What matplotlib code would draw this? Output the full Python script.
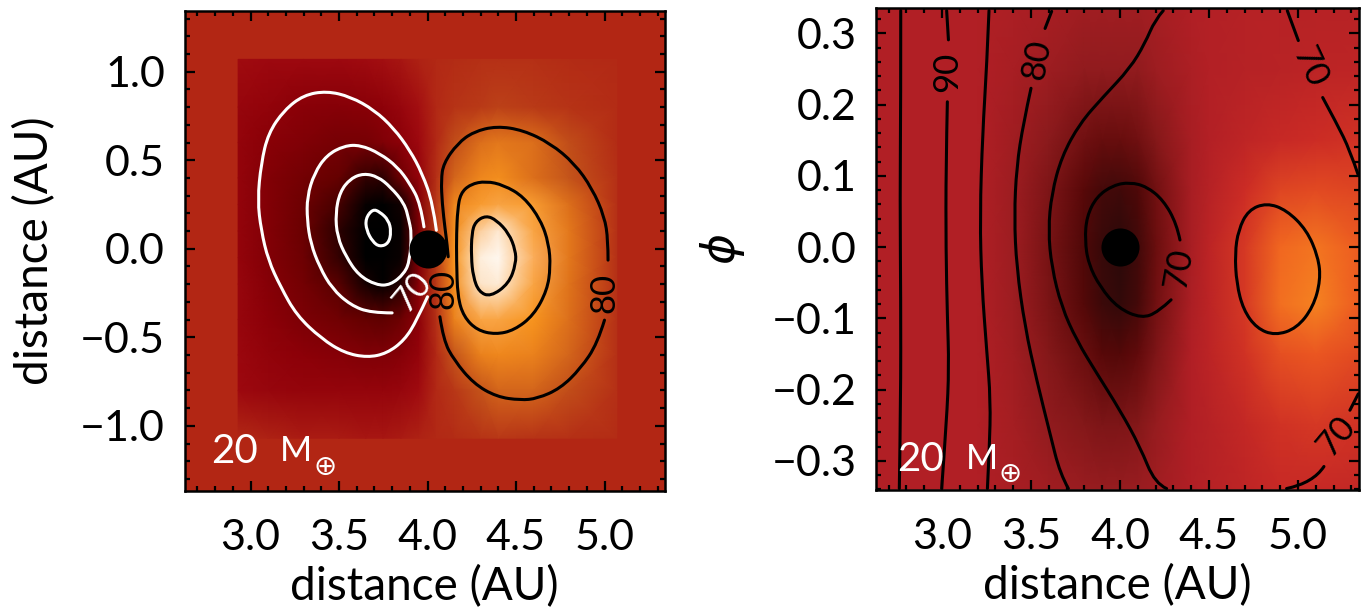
import numpy as np
import matplotlib
matplotlib.use("Agg")
import matplotlib.pyplot as plt
from matplotlib.colors import LinearSegmentedColormap
from matplotlib.patches import PathPatch
from matplotlib.path import Path
from matplotlib.ticker import MultipleLocator

plt.rcParams["font.family"] = ["Lato", "DejaVu Sans"]
plt.rcParams["font.weight"] = 400

# left panel field (colour scale 0-100)
left_x = [2.93, 3.1, 3.3, 3.5, 3.65, 3.75, 3.85, 3.95, 4.05, 4.15, 4.3, 4.4, 4.6, 4.8, 5.07]
left_y = [1.07, 0.8, 0.6, 0.4, 0.25, 0.1, -0.05, -0.2, -0.4, -0.6, -0.8, -1.07]
left_field = [
    [45, 44, 44, 44, 45, 46, 47, 49, 50, 51, 52, 52, 52, 51, 50],
    [42, 40, 37, 36, 37, 39, 42, 46, 50, 53, 55, 57, 55, 53, 51],
    [41, 37, 34, 31, 31, 34, 38, 44, 50, 60, 68, 70, 68, 60, 51],
    [41, 35, 30, 25, 14, 12, 28, 40, 52, 66, 74, 76, 68, 62, 52],
    [41, 35, 28, 18, 2, 0, 5, 34, 54, 74, 80, 82, 80, 68, 52],
    [41, 35, 27, 12, 0, 0, 2, 32, 55, 76, 90, 95, 82, 70, 52],
    [41, 35, 28, 14, 0, 0, 3, 33, 55, 78, 97, 100, 84, 70, 52],
    [42, 36, 30, 22, 6, 1, 10, 36, 55, 76, 94, 96, 82, 69, 52],
    [42, 38, 33, 29, 25, 24, 28, 38, 52, 72, 82, 82, 78, 68, 52],
    [43, 40, 38, 36, 34, 34, 36, 41, 50, 62, 72, 74, 72, 66, 52],
    [44, 42, 41, 41, 41, 41, 42, 45, 50, 54, 62, 66, 66, 60, 52],
    [50, 49, 48, 48, 47, 47, 48, 49, 50, 51, 53, 54, 53, 52, 51],
]

# right panel field
right_x = [2.63, 2.9, 3.2, 3.4, 3.6, 3.8, 3.9, 4.0, 4.1, 4.2, 4.4, 4.5, 4.7, 4.9, 5.1, 5.34]
right_y = [0.34, 0.25, 0.15, 0.08, 0.0, -0.08, -0.15, -0.25, -0.34]
right_field = [
    [50, 50, 50, 49, 48, 46, 46, 46, 46, 47, 50, 51, 52, 52, 52, 52],
    [50, 50, 50, 48, 45, 42, 42, 42, 42, 45, 49, 51, 52, 53, 54, 55],
    [50, 50, 50, 46, 40, 32, 29, 29, 32, 38, 48, 51, 55, 58, 60, 62],
    [50, 50, 50, 45, 36, 24, 16, 14, 20, 32, 48, 52, 60, 68, 70, 68],
    [50, 50, 50, 45, 34, 20, 10, 5, 14, 30, 48, 54, 64, 82, 86, 78],
    [50, 50, 50, 45, 35, 22, 12, 8, 16, 32, 49, 54, 64, 84, 90, 78],
    [50, 50, 50, 46, 38, 30, 24, 22, 27, 36, 50, 54, 62, 72, 76, 70],
    [50, 50, 50, 47, 42, 38, 36, 36, 38, 43, 50, 52, 57, 62, 64, 62],
    [50, 50, 50, 48, 46, 44, 43, 43, 44, 46, 50, 52, 55, 58, 58, 57],
]

# traced contours, left panel
white_open = [
    [(4.05, .105), (4.03, .256), (3.97, .426), (3.90, .557), (3.81, .68), (3.70, .783), (3.565, .859),
     (3.43, .891), (3.30, .868), (3.19, .783), (3.10, .652), (3.06, .482), (3.04, .275), (3.06, .105),
     (3.10, -.064), (3.17, -.215), (3.26, -.375), (3.40, -.507), (3.53, -.588), (3.66, -.614),
     (3.77, -.591), (3.87, -.516), (3.94, -.403), (4.00, -.271)],
    [(3.98, .124), (3.96, .256), (3.90, .369), (3.83, .463), (3.73, .539), (3.62, .586), (3.53, .582),
     (3.43, .529), (3.36, .426), (3.32, .294), (3.32, .162), (3.34, .03), (3.39, -.102), (3.46, -.224),
     (3.565, -.318), (3.68, -.362), (3.80, -.362)],
]
white_closed = [
    [(3.895, .162), (3.87, .256), (3.79, .35), (3.72, .407), (3.64, .426), (3.565, .397), (3.505, .322),
     (3.48, .2), (3.49, .068), (3.54, -.045), (3.61, -.149), (3.71, -.205), (3.79, -.205), (3.87, -.139),
     (3.90, -.064), (3.91, .087)],
    [(3.69, .224), (3.73, .209), (3.78, .162), (3.795, .096), (3.78, .03), (3.73, .011), (3.69, .04),
     (3.655, .105), (3.65, .171)],
]
black_open = [
    [(4.117, -.045), (4.11, .03), (4.10, .105), (4.083, .256), (4.077, .388), (4.09, .482), (4.17, .595),
     (4.26, .661), (4.39, .693), (4.54, .67), (4.695, .595), (4.83, .482), (4.93, .341), (5.00, .181),
     (5.02, .049), (5.02, -.064)],
    [(5.00, -.403), (4.96, -.535), (4.865, -.676), (4.75, -.789), (4.62, -.846), (4.525, -.855),
     (4.39, -.836), (4.26, -.761), (4.15, -.629), (4.09, -.516), (4.07, -.384)],
]
black_closed = [
    [(4.17, .218), (4.186, .313), (4.243, .365), (4.33, .382), (4.43, .36), (4.544, .294), (4.64, .162),
     (4.685, .03), (4.695, -.102), (4.676, -.234), (4.60, -.375), (4.49, -.46), (4.384, -.484),
     (4.28, -.46), (4.205, -.384), (4.17, -.271), (4.164, -.064), (4.164, .087)],
    [(4.25, .087), (4.27, .153), (4.33, .188), (4.39, .162), (4.46, .087), (4.497, -.008), (4.50, -.083),
     (4.46, -.196), (4.356, -.271), (4.29, -.243), (4.258, -.158), (4.247, -.045)],
]

# traced contours, right panel
right_open = [
    [(2.768, .332), (2.768, .206), (2.764, .066), (2.768, -.074), (2.768, -.215), (2.76, -.339)],
    [(3.026, .332), (3.036, .291)],
    [(3.03, .204), (3.022, .113), (3.022, -.004), (3.03, -.098), (3.039, -.168), (3.026, -.243), (2.998, -.339)],
    [(3.264, .332), (3.251, .253), (3.228, .16), (3.213, .043), (3.223, -.051), (3.251, -.145),
     (3.273, -.215), (3.266, -.285), (3.255, -.339)],
    [(3.616, .331), (3.579, .307)],
    [(3.50, .223), (3.457, .174), (3.419, .113), (3.406, .043), (3.419, -.028), (3.466, -.112),
     (3.532, -.187), (3.607, -.262), (3.663, -.318), (3.71, -.339)],
    [(4.243, .332), (4.197, .319), (4.14, .286), (4.056, .251), (3.906, .211), (3.775, .174), (3.672, .127),
     (3.616, .075), (3.597, .024), (3.616, -.028), (3.672, -.084), (3.757, -.131), (3.869, -.177),
     (4.0, -.229), (4.112, -.28), (4.197, -.332), (4.262, -.339)],
    [(4.337, .01), (4.318, .033), (4.243, .066), (4.15, .085), (4.056, .091), (3.963, .087), (3.869, .071),
     (3.813, .043), (3.803, .01), (3.822, -.023), (3.888, -.056), (3.991, -.086), (4.122, -.1),
     (4.215, -.091), (4.287, -.074)],
    [(4.94, .332), (5.002, .29)],
    [(5.139, .21), (5.217, .174), (5.292, .136), (5.339, .101)],
    [(5.339, -.206), (5.292, -.229)],
    [(5.146, -.308), (5.086, -.331), (4.936, -.339)],
]
right_closed = [
    [(4.646, -.009), (4.665, .024), (4.721, .052), (4.824, .062), (4.936, .052), (5.049, .024), (5.114, -.014),
     (5.127, -.046), (5.086, -.084), (4.993, -.114), (4.871, -.124), (4.768, -.114), (4.693, -.088), (4.655, -.051)],
]

# contour labels: x, y, text, angle
left_labels = [(3.913, -.243, "70", 50, "white"), (4.092, -.224, "80", 90, "black"), (4.998, -.25, "80", 90, "black")]
right_labels = [(3.03, .246, "90", 90), (3.532, .264, "80", 80), (4.328, -.03, "70", 80),
                (5.067, .253, "70", -65), (5.217, -.266, "70", 50)]

x_ticks = [3.0, 3.5, 4.0, 4.5, 5.0]
x_tick_labels = ["3.0", "3.5", "4.0", "4.5", "5.0"]
left_y_ticks = [-1.0, -0.5, 0.0, 0.5, 1.0]
left_y_labels = ["\u22121.0", "\u22120.5", "0.0", "0.5", "1.0"]
right_y_ticks = [-0.3, -0.2, -0.1, 0.0, 0.1, 0.2, 0.3]
right_y_labels = ["\u22120.3", "\u22120.2", "\u22120.1", "0.0", "0.1", "0.2", "0.3"]

left_cmap = LinearSegmentedColormap.from_list("left", [
    (0.0, "#000000"), (0.12, "#2c0000"), (0.25, "#640000"), (0.38, "#8c0008"), (0.45, "#a00a10"),
    (0.5, "#b22815"), (0.62, "#c4541a"), (0.72, "#ea801c"), (0.78, "#f7941e"), (0.85, "#fbb060"),
    (0.93, "#fde0c0"), (1.0, "#fff8f0")])
right_cmap = LinearSegmentedColormap.from_list("right", [
    (0.0, "#200a0a"), (0.25, "#5a0808"), (0.4, "#8a1a1c"), (0.5, "#b01f25"), (0.6, "#cc2c25"),
    (0.7, "#e24a22"), (0.8, "#f06020"), (0.9, "#f58220"), (1.0, "#f79030")])

W, H = 1368, 607


def smooth(points, closed=False):
    p = np.array(points, dtype=float)
    if closed:
        start = (p[-1] + p[0]) / 2
        verts, codes = [start], [Path.MOVETO]
        for i in range(len(p)):
            verts += [p[i], (p[i] + p[(i + 1) % len(p)]) / 2]
            codes += [Path.CURVE3, Path.CURVE3]
    else:
        verts, codes = [p[0]], [Path.MOVETO]
        for i in range(1, len(p) - 1):
            end = p[i + 1] if i == len(p) - 2 else (p[i] + p[i + 1]) / 2
            verts += [p[i], end]
            codes += [Path.CURVE3, Path.CURVE3]
        if len(p) == 2:
            verts.append(p[1])
            codes.append(Path.LINETO)
    return Path(verts, codes)


def draw_curves(ax, open_curves, closed_curves, color):
    for curve in open_curves:
        ax.add_patch(PathPatch(smooth(curve), fill=False, ec=color, lw=2.2, zorder=3, capstyle="round"))
    for curve in closed_curves:
        ax.add_patch(PathPatch(smooth(curve, closed=True), fill=False, ec=color, lw=2.2, zorder=3))


def setup_axes(box, xlim, ylim, yticks, ylabels, yminor):
    left, top, right, bottom = box
    ax = fig.add_axes([left / W, 1 - bottom / H, (right - left) / W, (bottom - top) / H])
    ax.set_xlim(xlim)
    ax.set_ylim(ylim)
    ax.set_xticks(x_ticks, x_tick_labels)
    ax.set_yticks(yticks, ylabels)
    ax.xaxis.set_minor_locator(MultipleLocator(0.1))
    ax.yaxis.set_minor_locator(MultipleLocator(yminor))
    ax.tick_params(which="major", direction="in", top=True, right=True, length=7.5, width=1.6, labelsize=31)
    ax.tick_params(axis="x", which="major", pad=20)
    ax.tick_params(axis="y", which="major", pad=14)
    ax.tick_params(which="minor", direction="in", top=True, right=True, length=3.8, width=1.6)
    for spine in ax.spines.values():
        spine.set_linewidth(1.8)
        spine.set_zorder(6)
    return ax


fig = plt.figure(figsize=(W / 100, H / 100), dpi=100)

# left panel
ax1 = setup_axes((184.5, 11, 664.5, 491), (2.627, 5.339), (-1.368, 1.343), left_y_ticks, left_y_labels, 0.1)
ax1.set_facecolor("#b22614")
ax1.pcolormesh(left_x, left_y, np.array(left_field), cmap=left_cmap, vmin=0, vmax=100, shading="gouraud", zorder=1)
draw_curves(ax1, white_open, white_closed, "white")
draw_curves(ax1, black_open, black_closed, "black")
ax1.plot([4.0], [0.0], "o", color="black", ms=27.4, mew=0, zorder=4)
for x, y, text, angle, color in left_labels:
    ax1.text(x, y, text, rotation=angle, color=color, fontsize=25, ha="center", va="center", zorder=5)
ax1.text(2.78, -1.143, "20", color="white", fontsize=29, ha="left", va="center", zorder=5)
ax1.text(3.165, -1.143, "M", color="white", fontsize=25, ha="left", va="center", zorder=5)
ax1.text(3.42, -1.235, "\u2295", color="white", fontsize=20, family=["DejaVu Sans"], ha="center", va="center", zorder=5)
ax1.set_xlabel("distance (AU)", fontsize=33, labelpad=6)
ax1.set_ylabel("distance (AU)", fontsize=33, labelpad=17)

# right panel
ax2 = setup_axes((876, 8, 1359, 490), (2.629, 5.343), (-0.341, 0.3357), right_y_ticks, right_y_labels, 0.02)
ax2.pcolormesh(right_x, right_y, np.array(right_field), cmap=right_cmap, vmin=0, vmax=100, shading="gouraud", zorder=1)
draw_curves(ax2, right_open, right_closed, "black")
ax2.plot([4.0], [0.0], "o", color="black", ms=27.4, mew=0, zorder=4)
for x, y, text, angle in right_labels:
    ax2.text(x, y, text, rotation=angle, color="black", fontsize=25, ha="center", va="center", zorder=5)
ax2.text(2.75, -0.298, "20", color="white", fontsize=29, ha="left", va="center", zorder=5)
ax2.text(3.135, -0.298, "M", color="white", fontsize=25, ha="left", va="center", zorder=5)
ax2.text(3.385, -0.319, "\u2295", color="white", fontsize=20, family=["DejaVu Sans"], ha="center", va="center", zorder=5)
ax2.set_xlabel("distance (AU)", fontsize=33, labelpad=6)
ax2.set_ylabel("$\\phi$", fontsize=34, labelpad=18)

fig.savefig("out.png", dpi=100)
